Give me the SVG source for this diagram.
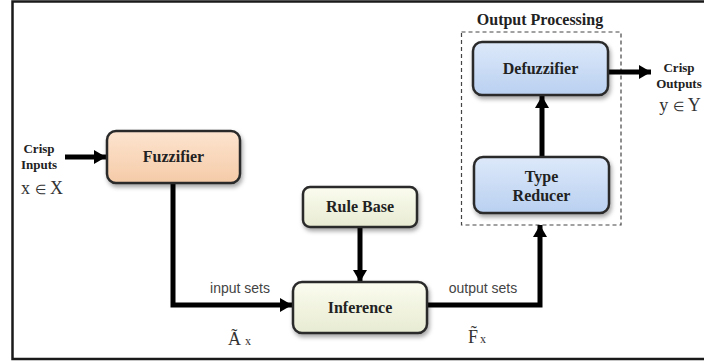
<svg xmlns="http://www.w3.org/2000/svg" width="704" height="362" viewBox="0 0 704 362">
  <defs>
    <linearGradient id="gPeach" x1="0" y1="0" x2="0" y2="1">
      <stop offset="0" stop-color="#fde4cf"/>
      <stop offset="1" stop-color="#f5cba8"/>
    </linearGradient>
    <linearGradient id="gCream" x1="0" y1="0" x2="0" y2="1">
      <stop offset="0" stop-color="#fbfcef"/>
      <stop offset="1" stop-color="#e8ebd2"/>
    </linearGradient>
    <linearGradient id="gBlue" x1="0" y1="0" x2="0" y2="1">
      <stop offset="0" stop-color="#dde9fa"/>
      <stop offset="1" stop-color="#b9d0f0"/>
    </linearGradient>
    <filter id="shadow" x="-10%" y="-10%" width="130%" height="140%">
      <feDropShadow dx="1.5" dy="3" stdDeviation="2" flood-color="#000" flood-opacity="0.35"/>
    </filter>
    <marker id="arrow" markerUnits="userSpaceOnUse" markerWidth="14" markerHeight="16" refX="12" refY="8" orient="auto">
      <path d="M0,1 L12,8 L0,15 Z" fill="#000"/>
    </marker>
    <style>
      .box { stroke: #2b2b2b; stroke-width: 2.5; filter: url(#shadow); }
      .label { font-family: "Liberation Serif", "Times New Roman", serif; font-weight: bold; font-size: 16px; fill: #222; text-anchor: middle; }
      .small { font-family: "Liberation Serif", "Times New Roman", serif; font-weight: bold; font-size: 13px; fill: #222; text-anchor: middle; }
      .set { font-family: "Liberation Sans", Arial, sans-serif; font-size: 14px; fill: #444; text-anchor: middle; }
      .math { font-family: "Liberation Serif", "Times New Roman", serif; font-size: 18px; fill: #333; }
      .sub { font-family: "Liberation Serif", "Times New Roman", serif; font-size: 12px; fill: #333; }
      .wire { fill: none; stroke: #000; stroke-width: 5; marker-end: url(#arrow); }
    </style>
  </defs>

  <rect width="704" height="362" fill="#fff"/>
  <!-- outer frame -->
  <path d="M710,1.5 H12.5 V359 H710" fill="none" stroke="#1a1a1a" stroke-width="2.5"/>

  <!-- output processing group outline -->
  <g id="output-processing">
    <rect x="461.5" y="32" width="159.5" height="193" fill="none" stroke="#444" stroke-width="1.2" stroke-dasharray="4,3"/>
    <text x="540" y="25" class="label" font-size="18">Output Processing</text>
  </g>

  <g id="connectors">
    <path class="wire" d="M65,157 H106"/>
    <path class="wire" d="M173,183 V305 H292"/>
    <path class="wire" d="M360,227 V282"/>
    <path class="wire" d="M427,305 H540 V225"/>
    <path class="wire" d="M542,157 V96"/>
    <path class="wire" d="M609,72 H651"/>
  </g>

  <g id="crisp-inputs">
    <text x="39" y="153" class="small">Crisp</text>
    <text x="39" y="169" class="small">Inputs</text>
    <text x="42" y="194" class="math" text-anchor="middle" font-size="18">x <tspan font-size="13">∈</tspan> X</text>
  </g>

  <g id="fuzzifier">
    <rect x="107" y="131" width="133" height="52" rx="9" class="box" fill="url(#gPeach)"/>
    <text x="173.5" y="162" class="label">Fuzzifier</text>
  </g>

  <g id="rule-base">
    <rect x="303" y="187" width="114" height="40" rx="7" class="box" fill="url(#gCream)"/>
    <text x="360" y="212" class="label">Rule Base</text>
  </g>

  <g id="inference">
    <rect x="293" y="282" width="134" height="51" rx="9" class="box" fill="url(#gCream)"/>
    <text x="360" y="313" class="label">Inference</text>
  </g>

  <g id="type-reducer">
    <rect x="474" y="157" width="135" height="56" rx="9" class="box" fill="url(#gBlue)"/>
    <text x="541.5" y="182" class="label">Type</text>
    <text x="541.5" y="201" class="label">Reducer</text>
  </g>

  <g id="defuzzifier">
    <rect x="473" y="42" width="135" height="53" rx="9" class="box" fill="url(#gBlue)"/>
    <text x="540.5" y="74" class="label">Defuzzifier</text>
  </g>

  <g id="crisp-outputs">
    <text x="679" y="72" class="small">Crisp</text>
    <text x="679" y="88" class="small">Outputs</text>
    <text x="680" y="111" class="math" text-anchor="middle" font-size="18">y <tspan font-size="13">∈</tspan> Y</text>
  </g>

  <g id="set-labels">
    <text x="240" y="293" class="set">input sets</text>
    <text x="483" y="293" class="set">output sets</text>
    <text x="228" y="345" class="math" font-size="19">Ã</text>
    <text x="245" y="345" class="sub">x</text>
    <text x="468" y="343" class="math" font-size="19">F̃</text>
    <text x="480" y="343" class="sub">x</text>
  </g>
</svg>
